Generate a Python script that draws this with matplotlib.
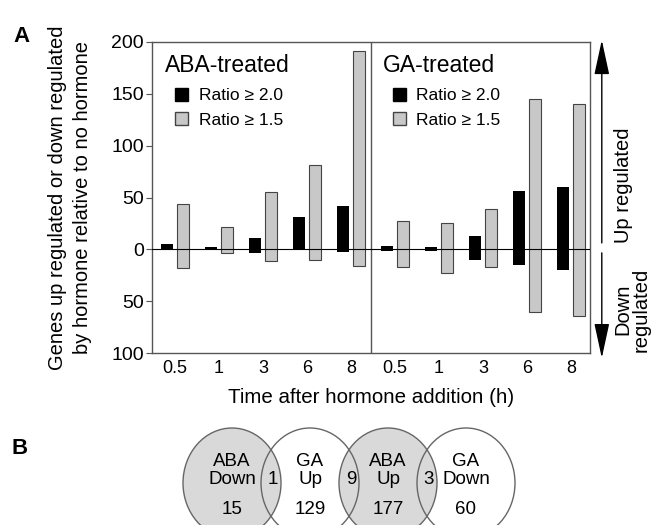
import numpy as np
import matplotlib
matplotlib.use('Agg')
import matplotlib.pyplot as plt
from matplotlib.patches import Ellipse, Patch

plt.rcParams['font.family'] = ['Liberation Sans', 'DejaVu Sans']

# data
times = ['0.5', '1', '3', '6', '8']
aba_up_20 = [5, 2, 11, 31, 42]
aba_dn_20 = [1, 0.5, 4, 1, 3]
aba_up_15 = [44, 22, 55, 81, 191]
aba_dn_15 = [18, 4, 11, 10, 16]
ga_up_20 = [3, 2, 13, 56, 60]
ga_dn_20 = [1.5, 1.5, 10, 15, 20]
ga_up_15 = [27, 25, 39, 145, 140]
ga_dn_15 = [17, 23, 17, 60, 64]

venn_names = [('ABA', 'Down'), ('GA', 'Up'), ('ABA', 'Up'), ('GA', 'Down')]
venn_counts = [15, 129, 177, 60]
venn_overlap = [1, 9, 3]
venn_fill = ['#d9d9d9', 'white', '#d9d9d9', 'white']

fig = plt.figure(figsize=(6.54, 5.25), dpi=100)
ax = fig.add_axes([0.2324, 0.3276, 0.6697, 0.5924])

up20 = np.array(aba_up_20 + ga_up_20)
dn20 = np.array(aba_dn_20 + ga_dn_20)
up15 = np.array(aba_up_15 + ga_up_15)
dn15 = np.array(aba_dn_15 + ga_dn_15)
x = np.arange(len(up20))
w = 0.27
off = 0.18

ax.bar(x - off, up20 + dn20, bottom=-dn20, width=w, color='black', zorder=3)
ax.bar(x + off, up15 + dn15, bottom=-dn15, width=w, color='#c8c8c8',
       edgecolor='#444444', linewidth=0.8, zorder=3)

ax.axhline(0, color='black', lw=0.8, zorder=4)
ax.axvline(4.45, color='#555555', lw=1)
ax.set_xlim(-0.52, 9.43)
ax.set_ylim(-100, 200)

yt = [200, 150, 100, 50, 0, -50, -100]
ax.set_yticks(yt)
ax.set_yticklabels([str(abs(v)) for v in yt], fontsize=14)
ax.set_xticks(x)
ax.set_xticklabels(times * 2, fontsize=13)
ax.tick_params(axis='x', length=0, pad=5)
ax.tick_params(axis='y', length=4, width=0.8, color='#555555', pad=2)
for s in ax.spines.values():
    s.set_color('#555555')
    s.set_linewidth(1)

ax.set_xlabel('Time after hormone addition (h)', fontsize=14.8, labelpad=8)
ax.set_ylabel('Genes up regulated or down regulated\nby hormone relative to no hormone',
              fontsize=14.5, labelpad=14, linespacing=1.4)

ax.text(0.03, 0.96, 'ABA-treated', transform=ax.transAxes, fontsize=16.5, va='top')
ax.text(0.528, 0.96, 'GA-treated', transform=ax.transAxes, fontsize=16.5, va='top')

handles = [Patch(facecolor='black', edgecolor='black', label='Ratio \u2265 2.0'),
           Patch(facecolor='#c8c8c8', edgecolor='#444444', label='Ratio \u2265 1.5')]
legkw = dict(loc='upper left', frameon=False, fontsize=12.5, handlelength=0.75,
             handleheight=0.75, handletextpad=0.6, labelspacing=0.5,
             borderpad=0, borderaxespad=0)
leg1 = ax.legend(handles=handles, bbox_to_anchor=(0.053, 0.852), **legkw)
ax.add_artist(leg1)
ax.legend(handles=handles, bbox_to_anchor=(0.55, 0.852), **legkw)

# up / down arrows at right
ax.annotate('', xy=(1.027, 1.006), xytext=(1.027, 0.354), xycoords='axes fraction',
            arrowprops=dict(arrowstyle='-|>,head_length=1.2,head_width=0.26',
                            color='black', lw=1, mutation_scale=18, shrinkA=0, shrinkB=0))
ax.annotate('', xy=(1.027, -0.016), xytext=(1.027, 0.322), xycoords='axes fraction',
            arrowprops=dict(arrowstyle='-|>,head_length=1.2,head_width=0.26',
                            color='black', lw=1, mutation_scale=18, shrinkA=0, shrinkB=0))
ax.text(1.077, 0.54, 'Up regulated', transform=ax.transAxes, rotation=90,
        fontsize=14.5, ha='center', va='center')
ax.text(1.095, 0.14, 'Down\nregulated', transform=ax.transAxes, rotation=90,
        fontsize=14.5, ha='center', va='center', linespacing=0.95)

fig.text(0.021, 0.93, 'A', fontsize=16, fontweight='bold', va='center')
fig.text(0.018, 0.145, 'B', fontsize=16, fontweight='bold', va='center')

# panel B: venn-like ellipses, drawn in pixel units
vx = fig.add_axes([0, 0, 1, 125 / 525])
vx.set_xlim(0, 654)
vx.set_ylim(0, 125)
vx.axis('off')
cx = 232 + 78 * np.arange(len(venn_counts))
cy = 42
order = [1, 3, 0, 2]
for i in order:
    vx.add_patch(Ellipse((cx[i], cy), 98, 110, facecolor=venn_fill[i], edgecolor='none'))
for i in range(len(venn_counts)):
    vx.add_patch(Ellipse((cx[i], cy), 98, 110, facecolor='none', edgecolor='#666666', lw=1))
    vx.text(cx[i], 64, venn_names[i][0], ha='center', va='center', fontsize=13.5)
    vx.text(cx[i], 46, venn_names[i][1], ha='center', va='center', fontsize=13.5)
    vx.text(cx[i], 16, str(venn_counts[i]), ha='center', va='center', fontsize=13.5)
for i, n in enumerate(venn_overlap):
    vx.text((cx[i] + cx[i + 1]) / 2 + 2, 46, str(n), ha='center', va='center', fontsize=13.5)

fig.savefig('out.png', dpi=100)
